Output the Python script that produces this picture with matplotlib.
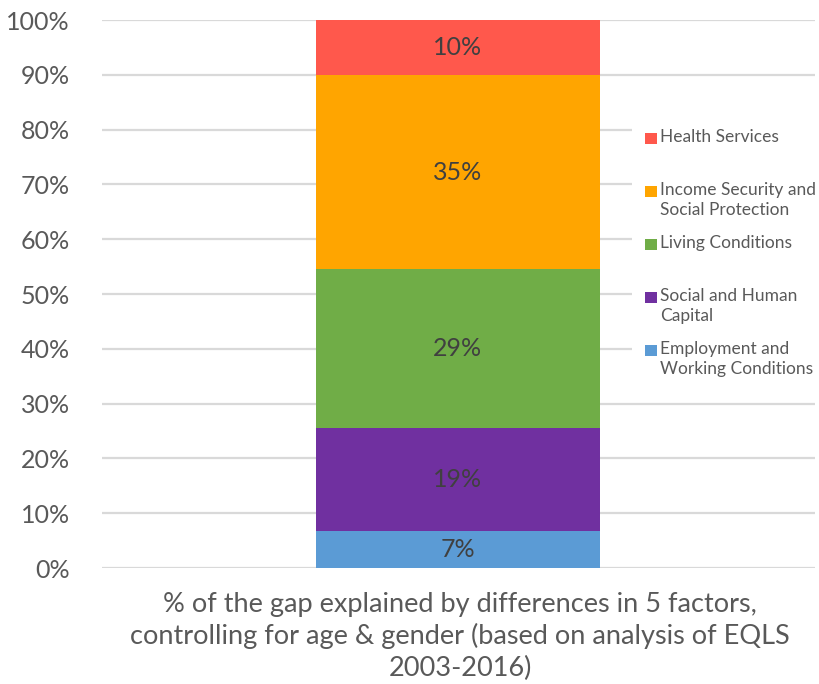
import matplotlib.pyplot as plt
from matplotlib.patches import Rectangle

# data (bottom to top)
factors = ["Employment and\nWorking Conditions", "Social and Human\nCapital",
           "Living Conditions", "Income Security and\nSocial Protection",
           "Health Services"]
shares = [6.8, 18.8, 28.9, 35.4, 10.1]
labels = ["7%", "19%", "29%", "35%", "10%"]
colors = ["#5B9BD5", "#7030A0", "#70AD47", "#FFA500", "#FF584C"]
yticks = list(range(0, 101, 10))
xlabel = ("% of the gap explained by differences in 5 factors,\n"
          "controlling for age & gender (based on analysis of EQLS\n"
          "2003-2016)")

plt.rcParams["font.family"] = ["Lato", "DejaVu Sans"]

W, H = 819, 684
fig = plt.figure(figsize=(W / 100, H / 100), dpi=100)
ax = fig.add_axes([102 / W, (H - 568) / H, (815 - 102) / W, (568 - 20) / H])

bottom = 0
for val, lab, col in zip(shares, labels, colors):
    ax.bar(0, val, bottom=bottom, width=0.4, color=col, zorder=3)
    ax.text(0, bottom + val / 2, lab, ha="center", va="center",
            fontsize=18, color="#404040", zorder=4)
    bottom += val

ax.set_xlim(-0.501, 0.503)
ax.set_ylim(0, 100)
ax.set_yticks(yticks)
ax.set_yticklabels([f"{t}%" for t in yticks])
ax.tick_params(axis="y", length=0, pad=23, labelsize=18, labelcolor="#595959")
ax.set_xticks([])
ax.grid(axis="y", color="#D9D9D9", linewidth=1.6, zorder=0)
for s in ax.spines.values():
    s.set_visible(False)

# legend box (white, covers gridlines), entries top to bottom
fig.patches.append(Rectangle((632 / W, (H - 392) / H), (W - 632) / W, 282 / H,
                             transform=fig.transFigure, facecolor="white",
                             edgecolor="none", zorder=5))
for i, (name, col) in enumerate(zip(factors[::-1], colors[::-1])):
    ytop = 131 + i * 53
    fig.patches.append(Rectangle((645 / W, (H - ytop - 13) / H), 12 / W, 11 / H,
                                 transform=fig.transFigure, facecolor=col,
                                 edgecolor="none", zorder=6))
    fig.text(660 / W, (H - ytop + 2) / H, name, ha="left", va="top",
             fontsize=12.5, color="#595959", linespacing=1.3, zorder=7)

fig.text(460 / W, (H - 592) / H, xlabel, ha="center", va="top",
         fontsize=19.5, color="#595959", linespacing=1.3)

fig.savefig("out.png", dpi=100)
